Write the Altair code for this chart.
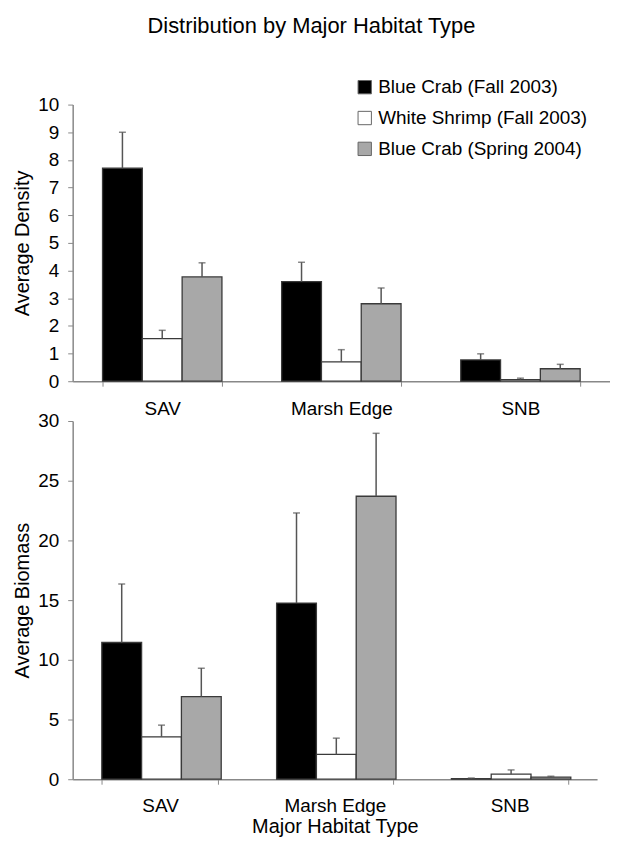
import altair as alt
import pandas as pd

habitats = ["SAV", "Marsh Edge", "SNB"]
series = ["Blue Crab (Fall 2003)", "White Shrimp (Fall 2003)", "Blue Crab (Spring 2004)"]
colors = ["#000000", "#ffffff", "#a8a8a8"]

density_bc_fall = [7.70, 3.60, 0.77]
density_ws_fall = [1.54, 0.70, 0.06]
density_bc_spring = [3.77, 2.80, 0.45]
density_err_bc_fall = [1.30, 0.70, 0.22]
density_err_ws_fall = [0.30, 0.44, 0.05]
density_err_bc_spring = [0.51, 0.57, 0.16]

biomass_bc_fall = [11.45, 14.75, 0.05]
biomass_ws_fall = [3.55, 2.08, 0.42]
biomass_bc_spring = [6.92, 23.70, 0.17]
biomass_err_bc_fall = [4.90, 7.55, 0.05]
biomass_err_ws_fall = [0.98, 1.36, 0.36]
biomass_err_bc_spring = [2.38, 5.27, 0.08]

density_ticks = list(range(0, 11))
biomass_ticks = list(range(0, 31, 5))


def build(means, errs):
    rows = []
    for s, m_list, e_list in zip(series, means, errs):
        for h, m, e in zip(habitats, m_list, e_list):
            rows.append({"habitat": h, "series": s, "value": m, "top": m + e})
    return pd.DataFrame(rows)


df_d = build([density_bc_fall, density_ws_fall, density_bc_spring],
             [density_err_bc_fall, density_err_ws_fall, density_err_bc_spring])
df_b = build([biomass_bc_fall, biomass_ws_fall, biomass_bc_spring],
             [biomass_err_bc_fall, biomass_err_ws_fall, biomass_err_bc_spring])

FONT = "Liberation Sans"


def panel(df, ymax, yticks, ytitle, xtitle, show_legend, w, h, lab_pad):
    x = alt.X("habitat:N", sort=habitats,
              scale=alt.Scale(paddingInner=1 / 3, paddingOuter=1 / 6),
              axis=alt.Axis(title=xtitle, labelAngle=0, tickBand="extent",
                            labelPadding=lab_pad, titlePadding=2))
    xo = alt.XOffset("series:N", sort=series,
                     scale=alt.Scale(paddingInner=0, paddingOuter=0))
    yscale = alt.Scale(domain=[0, ymax], nice=False)
    y_axis = alt.Axis(values=yticks, title=ytitle, titlePadding=5, labelPadding=9,
                      labelOverlap=False)
    if show_legend:
        leg = alt.Legend(title=None, orient="none", legendX=284, legendY=-27,
                         symbolType="square", symbolSize=180,
                         symbolStrokeColor="#666", symbolStrokeWidth=1,
                         labelFont=FONT, labelFontSize=19, labelColor="#000",
                         labelLimit=400, rowPadding=11, labelOffset=4)
    else:
        leg = None
    base = alt.Chart(df)
    bars = base.mark_bar(stroke="#3a3a3a", strokeWidth=1.3).encode(
        x=x, xOffset=xo,
        y=alt.Y("value:Q", scale=yscale, axis=y_axis, title=ytitle),
        fill=alt.Fill("series:N", sort=series,
                      scale=alt.Scale(domain=series, range=colors), legend=leg),
    )
    rules = base.mark_rule(color="#555", strokeWidth=1.5).encode(
        x=x, xOffset=xo,
        y=alt.Y("value:Q", scale=yscale, axis=y_axis, title=ytitle),
        y2="top:Q")
    caps = base.mark_tick(color="#555", thickness=1.5, size=7).encode(
        x=x, xOffset=xo,
        y=alt.Y("top:Q", scale=yscale, axis=y_axis, title=ytitle))
    return alt.layer(bars, rules, caps).properties(width=w, height=h)


top = panel(df_d, 10, density_ticks, "Average Density", None, True, 540, 278, 13)
bottom = panel(df_b, 30, biomass_ticks, "Average Biomass", "Major Habitat Type", False,
               527, 360, 12)

chart = alt.vconcat(top, bottom, spacing=-6).properties(
    padding={"left": 4, "top": 5, "right": 0, "bottom": 0},
    title=alt.TitleParams("Distribution by Major Habitat Type", font=FONT, fontSize=22,
                          fontWeight="normal", color="#000", anchor="middle", offset=40)
).configure_view(stroke=None).configure_axis(
    grid=False, labelFont=FONT, titleFont=FONT, labelFontSize=19, titleFontSize=20,
    titleFontWeight="normal", labelColor="#000", titleColor="#000",
    domainColor="#888", tickColor="#888", tickSize=5, domainWidth=1.5
)

chart.save("out.html", embed_options={"renderer": "svg", "actions": False})
